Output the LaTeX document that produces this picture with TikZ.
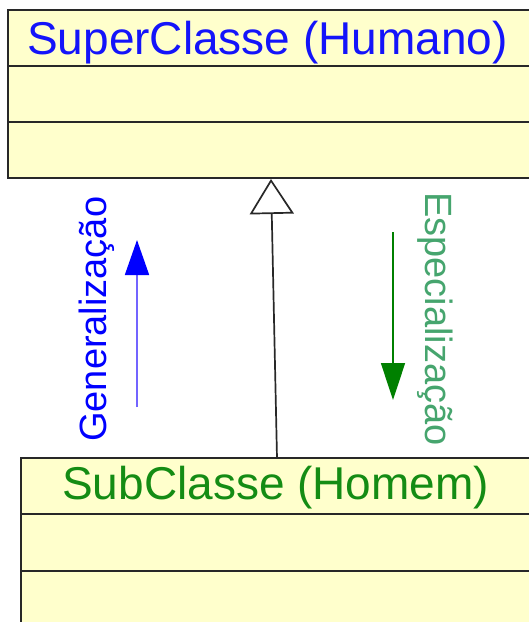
\documentclass[tikz,border=0pt]{standalone}
\usepackage{fontspec}
\setmainfont{Liberation Sans}
\usetikzlibrary{arrows.meta}
\definecolor{classfill}{RGB}{255,255,204}
\definecolor{classline}{RGB}{40,40,40}
\definecolor{supertxt}{RGB}{20,20,250}
\definecolor{subtxt}{RGB}{20,140,20}
\definecolor{spectxt}{RGB}{70,165,110}
\definecolor{gencol}{RGB}{0,0,255}
\definecolor{genshaft}{RGB}{115,100,255}
\definecolor{speccol}{RGB}{0,128,0}
\tikzset{
  classbox/.style={draw=classline, fill=classfill, line width=1.5pt},
  compart/.style={draw=classline, line width=1.5pt},
  classname/.style={inner sep=0pt, anchor=base west, font=\fontsize{46}{55}\selectfont},
  sidelabel/.style={inner sep=0pt, anchor=base west, font=\fontsize{38}{46}\selectfont},
  inherit/.style={draw=classline, line width=1.7pt,
    -{Triangle[open, length=35pt, width=44pt, fill=white]}},
}
\begin{document}
\begin{tikzpicture}[x=1pt, y=-1pt]
  \useasboundingbox (0,0) rectangle (529,622);
  \fill[white] (0,0) rectangle (529,622);
  \clip (0,0) rectangle (529,622);

  % superclass
  \draw[classbox] (8,10) rectangle (545,178);
  \draw[compart] (8,66) -- (545,66);
  \draw[compart] (8,122) -- (545,122);
  \node[classname, text=supertxt] (supname) at (27,54) {SuperClasse (Humano)};

  % subclass
  \draw[classbox] (21,458) rectangle (545,640);
  \draw[compart] (21,514) -- (545,514);
  \draw[compart] (21,571) -- (545,571);
  \node[classname, text=subtxt] (subname) at (62,499) {SubClasse (Homem)};

  % generalisation link
  \coordinate (subtop) at (277,458);
  \coordinate (superbot) at (271,179);
  \draw[inherit] (subtop) -- (superbot);

  % direction hints
  \coordinate (genfrom) at (137,407);
  \coordinate (gento) at (137,240);
  \draw[draw=genshaft, line width=1.8pt,
    -{Triangle[length=35pt, width=24pt, color=gencol, fill=gencol]}] (genfrom) -- (gento);
  \node[sidelabel, text=gencol, rotate=90] (genlabel) at (106,442) {Generalização};

  \coordinate (specfrom) at (393,232);
  \coordinate (specto) at (393,400);
  \draw[speccol, line width=1.6pt,
    -{Triangle[length=37pt, width=24pt]}] (specfrom) -- (specto);
  \node[sidelabel, text=spectxt, rotate=-90] (speclabel) at (425,192) {Especialização};
\end{tikzpicture}
\end{document}
